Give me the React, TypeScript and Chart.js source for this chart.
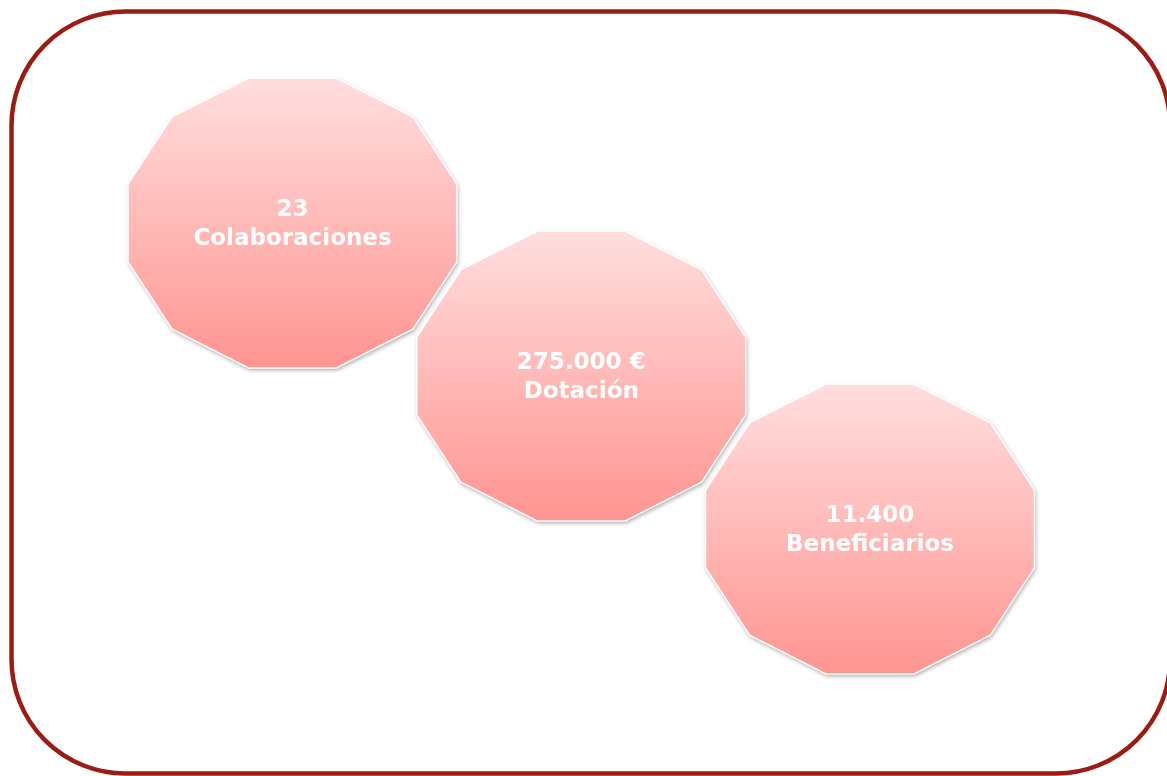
import React, { useEffect, useRef } from "react";
import { Chart, registerables } from "chart.js";

Chart.register(...registerables);

const categories = ["Colaboraciones", "Dotación", "Beneficiarios"];
const valueLabels = ["23", "275.000 €", "11.400"];
const values = [23, 275000, 11400];
const stepX = [0, 1, 2];
const stepY = [0, 1, 2];

const W = 1167;
const H = 776;

const shapesPlugin = {
  id: "dodecagons",
  beforeDraw(chart: any) {
    const ctx = chart.ctx;
    ctx.save();
    ctx.fillStyle = "#ffffff";
    ctx.fillRect(0, 0, chart.width, chart.height);
    ctx.strokeStyle = "#9A1C14";
    ctx.lineWidth = 4.5;
    ctx.beginPath();
    ctx.roundRect(11.5, 11.5, 1170 - 11.5, 773.5 - 11.5, 114);
    ctx.stroke();
    ctx.restore();
  },
  afterDatasetsDraw(chart: any) {
    const ctx = chart.ctx;
    const meta = chart.getDatasetMeta(0);
    const rx = 170.3;
    const ry = 150.1;
    meta.data.forEach((pt: any, i: number) => {
      const cx = pt.x;
      const cy = pt.y;
      const pts: [number, number][] = [];
      for (let k = 0; k < 12; k++) {
        const a = ((15 + 30 * k) * Math.PI) / 180;
        pts.push([cx + rx * Math.cos(a), cy - ry * Math.sin(a)]);
      }
      const top = cy - ry * Math.cos(Math.PI / 12);
      const bot = cy + ry * Math.cos(Math.PI / 12);
      const grad = ctx.createLinearGradient(0, top, 0, bot);
      grad.addColorStop(0, "#FFDEDE");
      grad.addColorStop(1, "#FF9591");
      ctx.save();
      ctx.beginPath();
      pts.forEach((p, k) => (k === 0 ? ctx.moveTo(p[0], p[1]) : ctx.lineTo(p[0], p[1])));
      ctx.closePath();
      ctx.shadowColor = "rgba(0,0,0,0.35)";
      ctx.shadowBlur = 4;
      ctx.shadowOffsetX = 1;
      ctx.shadowOffsetY = 2;
      ctx.fillStyle = grad;
      ctx.fill();
      ctx.shadowColor = "transparent";
      ctx.strokeStyle = "#ffffff";
      ctx.lineWidth = 1.5;
      ctx.stroke();
      ctx.fillStyle = "#ffffff";
      ctx.font = 'bold 23px "DejaVu Sans", Verdana, sans-serif';
      ctx.textAlign = "center";
      ctx.textBaseline = "alphabetic";
      ctx.fillText(valueLabels[i], cx, cy - 7.5);
      ctx.fillText(categories[i], cx, cy + 22);
      ctx.restore();
    });
  },
};

export default function App() {
  const ref = useRef<HTMLCanvasElement | null>(null);
  useEffect(() => {
    document.body.style.margin = "0";
    if (!ref.current) return;
    const chart = new Chart(ref.current, {
      type: "scatter",
      data: {
        datasets: [
          {
            label: "Indicadores",
            data: categories.map((c, i) => ({ x: stepX[i], y: stepY[i], v: values[i] })) as any,
            pointRadius: 0,
            pointHoverRadius: 0,
          },
        ],
      },
      options: {
        animation: false,
        responsive: false,
        layout: { padding: 0 },
        plugins: {
          legend: { display: false },
          tooltip: { enabled: false },
          title: { display: false },
        },
        events: [],
        scales: {
          x: { type: "linear", display: false, min: -292.5 / 288.75, max: (W - 292.5) / 288.75 },
          y: { type: "linear", display: false, reverse: true, min: -223 / 153, max: (H - 223) / 153 },
        },
      },
      plugins: [shapesPlugin],
    });
    return () => chart.destroy();
  }, []);
  return (
    <div style={{ position: "absolute", left: 0, top: 0, width: W, height: H }}>
      <canvas ref={ref} width={W} height={H} style={{ width: W, height: H, display: "block" }} />
    </div>
  );
}
